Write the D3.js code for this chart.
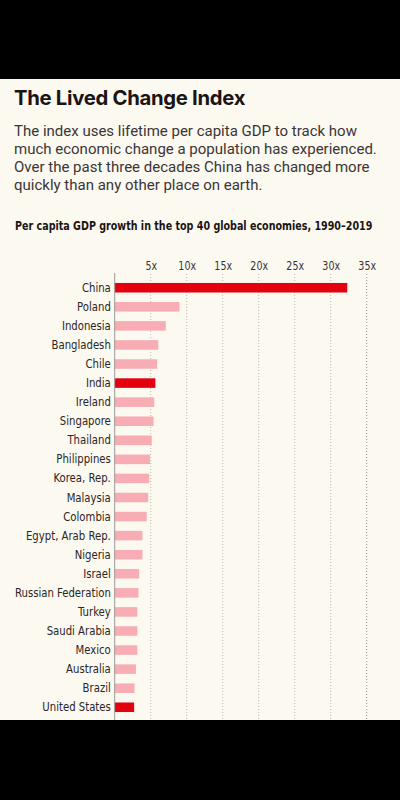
<!DOCTYPE html>
<html>
<head>
<meta charset="utf-8">
<script src="https://cdn.jsdelivr.net/npm/d3@7"></script>
<style>
  html, body { margin: 0; padding: 0; background: #000; }
  svg { display: block; }
  .cond { font-family: "Liberation Sans Narrow", "DejaVu Sans Condensed", "Roboto", sans-serif; font-stretch: condensed; }
</style>
</head>
<body>
<svg id="chart" width="400" height="800"></svg>
<script>
const countries = ["China","Poland","Indonesia","Bangladesh","Chile","India","Ireland","Singapore","Thailand","Philippines","Korea, Rep.","Malaysia","Colombia","Egypt, Arab Rep.","Nigeria","Israel","Russian Federation","Turkey","Saudi Arabia","Mexico","Australia","Brazil","United States"];
const growth = [32.3,9.0,7.1,6.05,5.9,5.65,5.5,5.4,5.15,4.9,4.8,4.65,4.45,3.85,3.85,3.4,3.3,3.15,3.15,3.15,2.95,2.75,2.7];
const highlighted = ["China","India","United States"];
const tickValues = [5,10,15,20,25,30,35];
const tickLabels = ["5x","10x","15x","20x","25x","30x","35x"];

const title = "The Lived Change Index";
const subtitleLines = [
  "The index uses lifetime per capita GDP to track how",
  "much economic change a population has experienced.",
  "Over the past three decades China has changed more",
  "quickly than any other place on earth."
];
const chartTitle = "Per capita GDP growth in the top 40 global economies, 1990–2019";

const svg = d3.select("#chart");
// cream panel
svg.append("rect").attr("x",0).attr("y",79).attr("width",400).attr("height",641).attr("fill","#fcf9f0");

svg.append("text").attr("x",14).attr("y",105)
  .attr("font-family","Inter, Roboto, sans-serif").attr("font-weight",700)
  .attr("font-size",20.3).attr("letter-spacing","-0.3").attr("fill","#1a1414").text(title);

svg.append("g").selectAll("text").data(subtitleLines).join("text")
  .attr("x",14).attr("y",(d,i)=>136+i*18)
  .attr("font-family","Roboto, 'Open Sans', sans-serif").attr("font-size",15)
  .attr("fill","#3a3636").text(d=>d);

const ct = svg.append("text").attr("class","cond")
  .attr("font-weight",700).attr("font-size",13).attr("fill","#1a1414").text(chartTitle);
const natural = ct.node().getComputedTextLength();
const sx = Math.min(1, 358 / natural);
ct.attr("transform",`translate(15,229.5) scale(${sx},1)`);

const x = d3.scaleLinear().domain([0,35]).range([114.7,366.7]);
const y = d3.scaleBand().domain(countries).range([278.2,716.8]).paddingInner(0.5).paddingOuter(0.25);

// gridlines
svg.append("g").selectAll("line").data(tickValues).join("line")
  .attr("x1",d=>x(d)).attr("x2",d=>x(d)).attr("y1",274).attr("y2",720)
  .attr("stroke",(d)=>d===35?"#777":"#aaa").attr("stroke-width",0.8)
  .attr("stroke-dasharray","1,2");

// tick labels via axis
const axis = d3.axisTop(x).tickValues(tickValues).tickSize(0).tickPadding(0)
  .tickFormat((d,i)=>tickLabels[i]);
const ag = svg.append("g").attr("transform","translate(0,270)").call(axis);
ag.select(".domain").remove();
ag.selectAll("text").attr("class","cond").attr("font-size",12).attr("fill","#333").attr("dy",0)
  .attr("transform","scale(0.88,1)");

// bars
svg.append("g").selectAll("rect").data(countries).join("rect")
  .attr("x",x(0)).attr("y",d=>y(d))
  .attr("width",(d,i)=>x(growth[i])-x(0)).attr("height",y.bandwidth())
  .attr("fill",d=>highlighted.includes(d)?"#e3000f":"#f8adb5");

// axis line
svg.append("line").attr("x1",x(0)).attr("x2",x(0)).attr("y1",273).attr("y2",720)
  .attr("stroke","#999").attr("stroke-width",1);

// category labels
const yAxis = d3.axisLeft(y).tickSize(0).tickPadding(4);
const yg = svg.append("g").attr("transform",`translate(${x(0)-0.3},0)`).call(yAxis);
yg.select(".domain").remove();
yg.selectAll("text").attr("class","cond").attr("font-size",12.5).attr("fill","#2a2626")
  .attr("transform","scale(0.9,1)");
</script>
</body>
</html>
